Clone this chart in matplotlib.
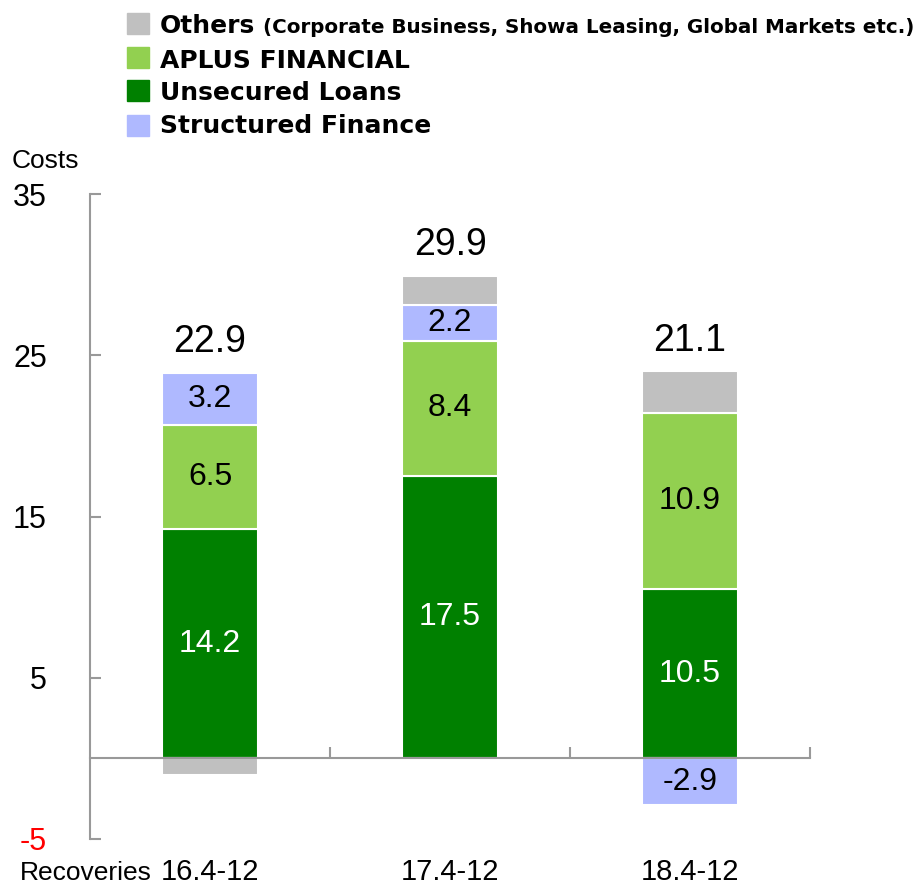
import numpy as np
import matplotlib.pyplot as plt
from matplotlib.patches import Rectangle

# data
periods = ["16.4-12", "17.4-12", "18.4-12"]
unsecured = [14.2, 17.5, 10.5]
aplus = [6.5, 8.4, 10.9]
structured = [3.2, 2.2, -2.9]
others = [-1.0, 1.8, 2.6]
totals = ["22.9", "29.9", "21.1"]

series = [
    ("Unsecured Loans", unsecured, "#008000", "white", True),
    ("APLUS FINANCIAL", aplus, "#92D050", "black", True),
    ("Structured Finance", structured, "#AFB9FF", "black", True),
    ("Others", others, "#C0C0C0", "black", False),
]

W, H = 921, 886
fig = plt.figure(figsize=(W / 100, H / 100), dpi=100)
ax = fig.add_axes([90 / W, 1 - 839 / H, 720 / W, (839 - 194) / H])

x = np.arange(len(periods))
pos_bottom = np.zeros(len(periods))
neg_bottom = np.zeros(len(periods))

for name, vals, col, tcol, show in series:
    vals = np.array(vals)
    bottoms = np.where(vals >= 0, pos_bottom, neg_bottom)
    ax.bar(x, vals, 0.4, bottom=bottoms, color=col, edgecolor="white", linewidth=1.5, zorder=2)
    if show:
        for xi, b, v in zip(x, bottoms, vals):
            ax.text(xi, b + v / 2, f"{v:.1f}", ha="center", va="center",
                    fontsize=23, color=tcol, family="Liberation Sans", zorder=3)
    pos_bottom = pos_bottom + np.where(vals >= 0, vals, 0)
    neg_bottom = neg_bottom + np.where(vals < 0, vals, 0)

for xi, top, lab in zip(x, pos_bottom, totals):
    ax.annotate(lab, (xi, top), xytext=(0, 15), textcoords="offset points",
                ha="center", va="baseline", fontsize=27, family="Liberation Sans")

ax.set_xlim(-0.5, 2.5)
ax.set_ylim(-5, 35)
ax.set_yticks([-5, 5, 15, 25, 35])
ax.set_yticklabels(["-5", "5", "15", "25", "35"], family="Liberation Sans", fontsize=22)
ax.get_yticklabels()[0].set_color("red")
ax.tick_params(axis="y", direction="in", length=8, width=1.5, color="#999999", pad=31)

ax.spines["top"].set_visible(False)
ax.spines["right"].set_visible(False)
ax.spines["left"].set_color("#999999")
ax.spines["left"].set_linewidth(1.5)
ax.spines["bottom"].set_position(("data", 0))
ax.spines["bottom"].set_color("#999999")
ax.spines["bottom"].set_linewidth(1.5)
ax.set_xticks([0.5, 1.5, 2.5])
ax.set_xticklabels([])
ax.tick_params(axis="x", direction="in", length=8, width=1.5, color="#999999")

# category labels under the plot area
for xi, p in zip(x, periods):
    ax.annotate(p, (xi, 0), xycoords=("data", "figure pixels"), xytext=(xi, 6),
                textcoords=("data", "figure pixels"), ha="center", va="baseline",
                fontsize=21, family="Liberation Sans", annotation_clip=False)

fig.text(20 / W, 1 - 880 / H, "Recoveries", ha="left", va="baseline", fontsize=19, family="Liberation Sans")
fig.text(12 / W, 1 - 168 / H, "Costs", ha="left", va="baseline", fontsize=19, family="Liberation Sans")

# legend drawn by hand so the first entry can mix two font sizes
legend_items = [("Others", "#C0C0C0", 13, 33), ("APLUS FINANCIAL", "#92D050", 47, 68),
                ("Unsecured Loans", "#008000", 80, 100), ("Structured Finance", "#AFB9FF", 115, 133)]
for lab, col, ytop, base in legend_items:
    fig.patches.append(Rectangle((127 / W, 1 - (ytop + 21) / H), 22 / W, 21 / H,
                                 color=col, transform=fig.transFigure, figure=fig))
    fig.text(160 / W, 1 - base / H, lab, ha="left", va="baseline", fontsize=18,
             fontweight="bold", family="DejaVu Sans")
    if lab == "Others":
        fig.text(263 / W, 1 - base / H, "(Corporate Business, Showa Leasing, Global Markets etc.)",
                 ha="left", va="baseline", fontsize=14.3, fontweight="bold", family="DejaVu Sans")

fig.savefig("out.png", dpi=100)
